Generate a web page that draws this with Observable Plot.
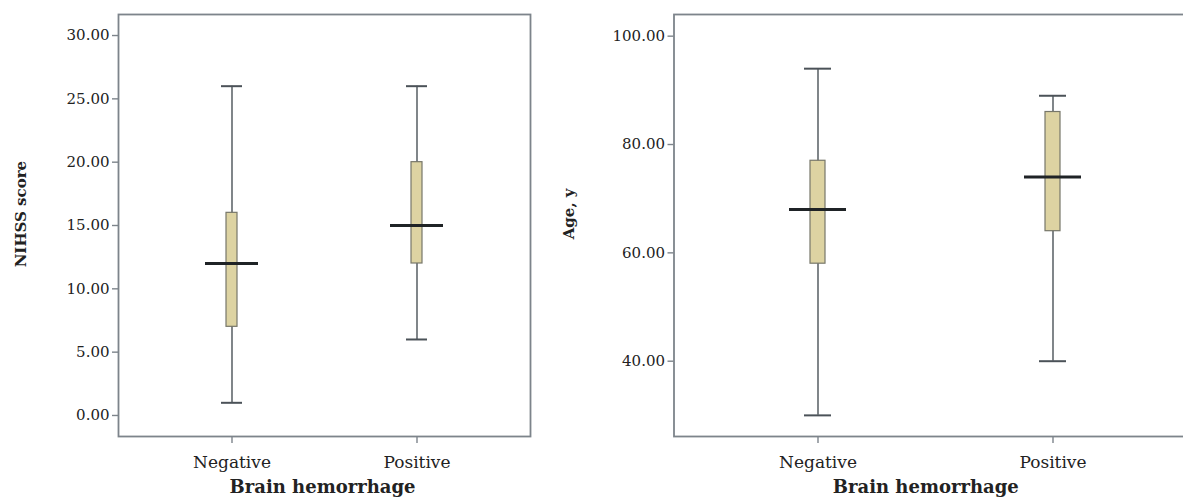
<!DOCTYPE html>
<html>
<head>
<meta charset="utf-8">
<script src="https://cdn.jsdelivr.net/npm/d3@7"></script>
<script src="https://cdn.jsdelivr.net/npm/@observablehq/plot@0.6"></script>
<style>
  html, body { margin: 0; padding: 0; background: #fff; overflow: hidden; }
  #wrap { position: relative; width: 1183px; height: 501px; overflow: hidden; }
  #left { position: absolute; left: 0; top: 0; width: 560px; }
  #right { position: absolute; left: 560px; top: 0; width: 637px; }
  svg { font-family: "DejaVu Serif", serif; max-width: none !important; }
</style>
</head>
<body>
<div id="wrap"><div id="left"></div><div id="right"></div></div>
<script>
const categories = ["Negative", "Positive"];

// NIHSS score (five-number summaries)
const nihssMin    = [1, 6];
const nihssQ1     = [7, 12];
const nihssMedian = [12, 15];
const nihssQ3     = [16, 20];
const nihssMax    = [26, 26];
const nihssTicks  = [0, 5, 10, 15, 20, 25, 30];

// Age, y (five-number summaries)
const ageMin    = [30, 40];
const ageQ1     = [58, 64];
const ageMedian = [68, 74];
const ageQ3     = [77, 86];
const ageMax    = [94, 89];
const ageTicks  = [40, 60, 80, 100];

const xTitle = "Brain hemorrhage";

function rows(mn, q1, md, q3, mx) {
  return categories.map((c, i) => ({cat: c, min: mn[i], q1: q1[i], median: md[i], q3: q3[i], max: mx[i]}));
}

function boxChart({data, ticks, yDomain, yLabel, yLabelAt, width, marginLeft, marginRight, paddingOuter,
                   boxInset, medInset, capInset, yLabelDx, xLabelDx}) {
  const frameColor = "#7d848b";
  const whisker = "#4b5258";
  return Plot.plot({
    width, height: 501,
    marginLeft, marginRight, marginTop: 14, marginBottom: 65,
    style: {fontFamily: "DejaVu Serif, serif", fontSize: "15px", color: "#222", background: "#fff", maxWidth: "none"},
    x: {type: "band", domain: categories, paddingInner: 0, paddingOuter, axis: null},
    y: {domain: yDomain, axis: null},
    marks: [
      // whiskers
      Plot.ruleX(data, {x: "cat", y1: "min", y2: "max", stroke: whisker, strokeWidth: 1.4}),
      Plot.tickY(data, {x: "cat", y: "min", stroke: whisker, strokeWidth: 2, insetLeft: capInset, insetRight: capInset}),
      Plot.tickY(data, {x: "cat", y: "max", stroke: whisker, strokeWidth: 2, insetLeft: capInset, insetRight: capInset}),
      // box
      Plot.barY(data, {x: "cat", y1: "q1", y2: "q3", fill: "#ddd3a2", stroke: "#77776a", strokeWidth: 1.2,
                       insetLeft: boxInset, insetRight: boxInset}),
      // median
      Plot.tickY(data, {x: "cat", y: "median", stroke: "#1f2326", strokeWidth: 2.8, insetLeft: medInset, insetRight: medInset}),
      // frame
      Plot.frame({stroke: frameColor, strokeWidth: 1.8}),
      // axes
      Plot.axisY(ticks, {anchor: "left", tickSize: 6, tickPadding: 3, stroke: frameColor, strokeWidth: 1.4,
                         tickFormat: d => d.toFixed(2), label: null, fontSize: 15, fill: "#222"}),
      Plot.axisX(categories, {anchor: "bottom", tickSize: 7, tickPadding: 12, stroke: frameColor, strokeWidth: 1.4,
                              label: null, fontSize: 17, fill: "#222"}),
      // axis titles
      Plot.text([yLabel], {text: d => d, y: [yLabelAt], frameAnchor: "left", textAnchor: "middle", dx: yLabelDx, rotate: -90,
                           fontWeight: "bold", fontSize: 15, fill: "#222"}),
      Plot.text([xTitle], {text: d => d, frameAnchor: "bottom", textAnchor: "middle", dy: 56, dx: xLabelDx,
                           fontWeight: "bold", fontSize: 18, fill: "#222"})
    ]
  });
}

document.getElementById("left").append(boxChart({
  data: rows(nihssMin, nihssQ1, nihssMedian, nihssQ3, nihssMax),
  ticks: nihssTicks, yDomain: [-1.66, 31.66], yLabel: "NIHSS score", yLabelAt: 15.9,
  width: 560, marginLeft: 118, marginRight: 30, paddingOuter: 0.108,
  boxInset: 87, medInset: 66, capInset: 82, yLabelDx: -97, xLabelDx: -2
}));

document.getElementById("right").append(boxChart({
  data: rows(ageMin, ageQ1, ageMedian, ageQ3, ageMax),
  ticks: ageTicks, yDomain: [26.1, 104.0], yLabel: "Age, y", yLabelAt: 67.2,
  width: 637, marginLeft: 113.5, marginRight: 0, paddingOuter: 0.11,
  boxInset: 110, medInset: 89, capInset: 104, yLabelDx: -105, xLabelDx: -10
}));
</script>
</body>
</html>
